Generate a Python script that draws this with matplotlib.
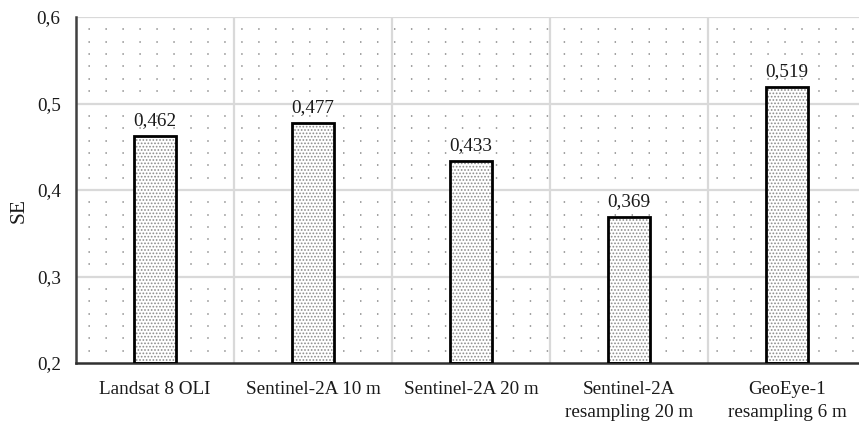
import matplotlib
matplotlib.use("Agg")
import matplotlib.pyplot as plt
import numpy as np
from matplotlib.ticker import FuncFormatter

categories = ["Landsat 8 OLI", "Sentinel-2A 10 m", "Sentinel-2A 20 m",
              "Sentinel-2A\nresampling 20 m", "GeoEye-1\nresampling 6 m"]
values = [0.462, 0.477, 0.433, 0.369, 0.519]
value_labels = ["0,462", "0,477", "0,433", "0,369", "0,519"]
y_ticks = [0.2, 0.3, 0.4, 0.5, 0.6]
y_label = "SE"

plt.rcParams['font.family'] = ['Liberation Serif', 'DejaVu Serif']
plt.rcParams['hatch.linewidth'] = 0.8

FS = 13.8
fig = plt.figure(figsize=(8.59, 4.21), dpi=100)
ax = fig.add_axes([76/859, 1-363/421, (866-76)/859, (363-17)/421])

x = np.arange(len(categories))
width = 0.27
ymin = 0.2

# minor dotted rows
minor_step = 0.1 / 7
for yy in np.arange(ymin + minor_step, 0.6, minor_step):
    if abs((yy - ymin) / 0.1 - round((yy - ymin) / 0.1)) < 1e-6:
        continue
    ax.axhline(yy, color='#9a9a9a', lw=1.3, linestyle=(2.5, (0.8, 8.6)), zorder=0.5)

# major grid
for yt in y_ticks[1:]:
    ax.axhline(yt, color='#d9d9d9', lw=1.6, zorder=0.6)
for b in np.arange(-0.5, len(categories) - 0.4, 1.0)[1:]:
    ax.axvline(b, color='#d9d9d9', lw=1.6, zorder=0.6)

heights = [v - ymin for v in values]
ax.bar(x, heights, width, bottom=ymin, facecolor='white', edgecolor='#8c8c8c',
       hatch='.....', lw=0, zorder=2)
ax.bar(x, heights, width, bottom=ymin, fill=False, edgecolor='black', lw=2.0, zorder=3)

for xi, v, lab in zip(x, values, value_labels):
    ax.annotate(lab, (xi, v), xytext=(0, 8), textcoords='offset points',
                ha='center', va='baseline', fontsize=FS, color='#1a1a1a')

ax.set_xlim(-0.5, len(categories) - 0.5)
ax.set_ylim(0.2, 0.6)
ax.set_yticks(y_ticks)
ax.yaxis.set_major_formatter(FuncFormatter(lambda v, p: f"{v:.1f}".replace('.', ',')))
ax.set_xticks(x)
ax.set_xticklabels(categories, fontsize=FS, linespacing=1.45)
ax.tick_params(axis='both', length=0, labelsize=FS, colors='#1a1a1a')
ax.tick_params(axis='y', pad=11)
ax.tick_params(axis='x', pad=13)
ax.set_ylabel(y_label, fontsize=15.5, color='#1a1a1a')
ax.yaxis.set_label_coords(-0.060, 0.44)

for s in ['top', 'right']:
    ax.spines[s].set_visible(False)
ax.spines['left'].set_color('#404040')
ax.spines['left'].set_linewidth(1.8)
ax.spines['bottom'].set_color('#303030')
ax.spines['bottom'].set_linewidth(1.8)

fig.savefig("out.png", dpi=100)
